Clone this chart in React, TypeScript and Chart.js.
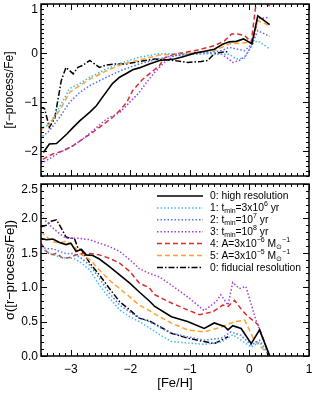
import { useEffect, useRef } from "react";
import { Chart, registerables } from "chart.js";

Chart.register(...registerables);

// ---------- axis ranges / ticks ----------
const FE_MIN = -3.5;
const FE_MAX = 1;
const TOP_MIN = -2.5;
const TOP_MAX = 1;
const BOT_MIN = 0;
const BOT_MAX = 2.5;
const X_TICKS = [-3, -2, -1, 0, 1];
const X_TICK_LABELS = ["−3", "−2", "−1", "0", "1"];
const TOP_TICKS = [-2, -1, 0, 1];
const TOP_TICK_LABELS = ["−2", "−1", "0", "1"];
const BOT_TICKS = [0, 0.5, 1, 1.5, 2, 2.5];
const BOT_TICK_LABELS = ["0.0", "0.5", "1.0", "1.5", "2.0", "2.5"];

// ---------- top panel: [r-process/Fe] ----------
const topHiX = [-3.46, -3.36, -3.24, -3.07, -2.96, -2.85, -2.68, -2.57, -2.47, -2.3, -2.18, -2.06, -1.96, -1.85, -1.68, -1.51, -1.26, -1.1, -0.92, -0.75, -0.59, -0.45, -0.34, -0.22, -0.1, 0.04, 0.14, 0.34];
const topHiY = [-2.02, -1.85, -1.84, -1.65, -1.51, -1.38, -1.2, -1.07, -0.9, -0.62, -0.49, -0.41, -0.34, -0.3, -0.22, -0.15, -0.12, -0.07, 0.0, 0.04, 0.08, 0.18, 0.23, 0.24, 0.29, 0.19, 0.76, 0.58];

const topT3X = [-3.52, -3.36, -3.19, -3.02, -2.85, -2.68, -2.4, -2.13, -1.85, -1.51, -1.26, -0.81, -0.42, -0.34, -0.22, -0.08, 0.05, 0.14, 0.34];
const topT3Y = [-1.54, -1.45, -1.1, -0.72, -0.62, -0.49, -0.32, -0.19, -0.085, -0.01, -0.01, -0.01, -0.02, -0.02, -0.12, -0.1, 0.19, 0.25, 0.085];

const topT7X = [-3.52, -3.36, -3.19, -3.02, -2.85, -2.68, -2.4, -2.13, -1.85, -1.51, -1.26, -0.81, -0.47, -0.34, -0.22, -0.08, 0.05, 0.14, 0.34];
const topT7Y = [-1.74, -1.58, -1.31, -1.0, -0.8, -0.66, -0.49, -0.34, -0.22, -0.11, -0.05, -0.01, 0.05, 0.12, 0.085, 0.05, 0.19, 0.46, 0.34];

const topT8X = [-3.5, -3.36, -3.2, -2.97, -2.8, -2.63, -2.4, -2.18, -2.01, -1.85, -1.73, -1.59, -1.43, -1.26, -0.81, -0.47, -0.37, -0.28, -0.17, -0.06, 0.05, 0.14, 0.34];
const topT8Y = [-2.25, -2.15, -2.03, -1.89, -1.75, -1.58, -1.34, -1.21, -1.0, -0.8, -0.6, -0.39, -0.19, -0.05, 0.01, -0.02, -0.1, -0.19, -0.15, -0.05, 0.19, 0.7, 0.73];

const topA6X = [-3.47, -3.3, -3.13, -2.97, -2.8, -2.63, -2.52, -2.3, -2.18, -2.06, -1.96, -1.8, -1.66, -1.51, -1.43, -1.26, -0.92, -0.59, -0.42, -0.3, -0.2, -0.08, 0.03, 0.12, 0.34];
const topA6Y = [-2.16, -2.05, -1.99, -1.89, -1.75, -1.61, -1.51, -1.31, -1.17, -1.0, -0.76, -0.54, -0.4, -0.25, -0.1, -0.02, 0.05, 0.15, 0.25, 0.39, 0.39, 0.36, 0.22, 1.1, 0.96];

const topA5X = [-3.52, -3.36, -3.19, -3.02, -2.85, -2.68, -2.4, -2.13, -1.85, -1.51, -1.04, -0.59, -0.34, -0.17, 0.0, 0.05, 0.14, 0.34];
const topA5Y = [-1.58, -1.44, -1.17, -0.8, -0.66, -0.53, -0.36, -0.22, -0.14, -0.04, -0.01, 0.05, 0.19, 0.2, 0.22, 0.2, 0.66, 0.56];

const topFidX = [-3.52, -3.44, -3.36, -3.27, -3.16, -3.08, -2.96, -2.88, -2.8, -2.68, -2.6, -2.52, -2.4, -2.24, -2.07, -1.85, -1.59, -1.26, -1.04, -0.81, -0.7, -0.59, -0.47, -0.37];
const topFidY = [-1.1, -1.13, -1.51, -1.33, -0.56, -0.29, -0.42, -0.29, -0.25, -0.15, -0.22, -0.29, -0.24, -0.22, -0.22, -0.17, -0.12, -0.15, -0.19, -0.17, -0.15, -0.01, 0.02, 0.03];

// ---------- bottom panel: sigma([r-process/Fe]) ----------
const botHiX = [-3.5, -3.41, -3.3, -3.19, -3.08, -3.0, -2.91, -2.82, -2.74, -2.63, -2.52, -2.35, -2.18, -2.01, -1.85, -1.68, -1.59, -1.31, -1.04, -0.76, -0.59, -0.42, -0.36, -0.28, -0.14, 0.03, 0.17, 0.34];
const botHiY = [1.71, 1.69, 1.7, 1.65, 1.62, 1.64, 1.52, 1.55, 1.47, 1.46, 1.41, 1.3, 1.18, 1.06, 0.93, 0.8, 0.72, 0.57, 0.5, 0.4, 0.48, 0.43, 0.38, 0.44, 0.4, 0.18, 0.38, 0.0];

const botT3X = [-3.5, -3.41, -3.3, -3.19, -3.08, -2.96, -2.85, -2.68, -2.52, -2.35, -2.18, -2.01, -1.85, -1.68, -1.51, -1.31, -1.04, -0.76, -0.47, -0.28, -0.14, 0.03, 0.17, 0.34];
const botT3Y = [1.56, 1.52, 1.47, 1.44, 1.42, 1.42, 1.37, 1.25, 1.03, 0.84, 0.67, 0.57, 0.5, 0.41, 0.31, 0.21, 0.19, 0.17, 0.2, 0.31, 0.23, 0.13, 0.2, 0.0];

const botT7X = [-3.5, -3.41, -3.3, -3.19, -3.08, -2.96, -2.85, -2.68, -2.52, -2.35, -2.18, -2.01, -1.85, -1.68, -1.51, -1.31, -1.04, -0.76, -0.47, -0.31, -0.14, 0.03, 0.17, 0.34];
const botT7Y = [1.59, 1.56, 1.56, 1.52, 1.49, 1.49, 1.44, 1.32, 1.13, 0.91, 0.74, 0.64, 0.55, 0.5, 0.42, 0.33, 0.28, 0.23, 0.26, 0.35, 0.3, 0.16, 0.23, 0.0];

const botT8X = [-3.5, -3.41, -3.3, -3.19, -3.08, -2.96, -2.85, -2.68, -2.52, -2.35, -2.18, -2.01, -1.85, -1.68, -1.51, -1.31, -1.04, -0.76, -0.56, -0.48, -0.36, -0.28, -0.17, -0.06, 0.11, 0.34];
const botT8Y = [2.05, 1.95, 1.86, 1.78, 1.71, 1.71, 1.71, 1.69, 1.64, 1.59, 1.52, 1.4, 1.27, 1.2, 1.15, 1.03, 0.86, 0.66, 0.79, 0.89, 0.74, 1.07, 0.98, 1.01, 0.52, 0.0];

const botA6X = [-3.5, -3.41, -3.33, -3.24, -3.13, -3.02, -2.91, -2.8, -2.68, -2.52, -2.35, -2.18, -2.01, -1.85, -1.68, -1.59, -1.31, -1.04, -0.84, -0.62, -0.45, -0.36, -0.25, -0.12, -0.03, 0.14, 0.34];
const botA6Y = [1.64, 1.52, 1.47, 1.49, 1.42, 1.43, 1.47, 1.49, 1.49, 1.47, 1.42, 1.35, 1.23, 1.06, 0.99, 0.89, 0.77, 0.67, 0.6, 0.64, 0.74, 0.72, 0.81, 0.66, 0.58, 0.46, 0.0];

const botA5X = [-3.5, -3.41, -3.3, -3.19, -3.08, -2.96, -2.85, -2.68, -2.52, -2.35, -2.18, -2.01, -1.85, -1.68, -1.51, -1.31, -1.04, -0.76, -0.47, -0.25, -0.08, 0.08, 0.34];
const botA5Y = [1.81, 1.73, 1.66, 1.64, 1.67, 1.61, 1.49, 1.4, 1.25, 1.1, 0.98, 0.86, 0.74, 0.66, 0.57, 0.48, 0.38, 0.35, 0.42, 0.5, 0.52, 0.23, 0.0];

const botFidX = [-3.5, -3.41, -3.33, -3.24, -3.16, -3.08, -3.0, -2.94, -2.88, -2.82, -2.68, -2.52, -2.35, -2.18, -2.01, -1.85, -1.68, -1.51, -1.31, -1.04, -0.76, -0.59, -0.47, -0.36];
const botFidY = [1.88, 1.9, 1.96, 1.98, 1.86, 1.73, 1.71, 1.71, 1.57, 1.54, 1.35, 1.18, 0.98, 0.79, 0.67, 0.55, 0.51, 0.43, 0.33, 0.26, 0.21, 0.18, 0.23, 0.28];

// ---------- series styles & legend ----------
type Seg = { t: string; k?: "sub" | "sup" };
const SERIES_COLORS = ["#000000", "#3cbcf4", "#5670f2", "#a040e0", "#d82c2c", "#ffa030", "#000000"];
const SERIES_DASH = [[], [1.5, 2], [1.5, 2], [1.5, 2], [5, 3], [5, 3], [6, 2, 1.5, 2]];
const LEGEND: Seg[][] = [
  [{ t: "0: high resolution" }],
  [{ t: "1: t" }, { t: "min", k: "sub" }, { t: "=3x10" }, { t: "6", k: "sup" }, { t: " yr" }],
  [{ t: "2: t" }, { t: "min", k: "sub" }, { t: "=10" }, { t: "7", k: "sup" }, { t: " yr" }],
  [{ t: "3: t" }, { t: "min", k: "sub" }, { t: "=10" }, { t: "8", k: "sup" }, { t: " yr" }],
  [{ t: "4: A=3x10" }, { t: "−6", k: "sup" }, { t: " M" }, { t: "⊙", k: "sub" }, { t: "−1", k: "sup" }],
  [{ t: "5: A=3x10" }, { t: "−5", k: "sup" }, { t: " M" }, { t: "⊙", k: "sub" }, { t: "−1", k: "sup" }],
  [{ t: "0: fiducial resolution" }],
];

const FONT = "'Liberation Sans', Arial, Helvetica, sans-serif";

const pts = (xs: number[], ys: number[]) => xs.map((x, i) => ({ x, y: ys[i] }));

function makeDatasets(series: [number[], number[]][]) {
  return series.map(([xs, ys], i) => ({
    label: "s" + i,
    data: pts(xs, ys),
    borderColor: SERIES_COLORS[i],
    borderDash: SERIES_DASH[i],
    borderWidth: i === 0 ? 1.6 : 1.5,
    pointRadius: 0,
    fill: false,
    tension: 0,
  }));
}

function frameTicks(
  ctx: CanvasRenderingContext2D,
  chart: any,
  yMajor: number[],
  yMinorStep: number,
  yMin: number,
  yMax: number
) {
  const a = chart.chartArea;
  const xs = chart.scales.x;
  const ys = chart.scales.y;
  ctx.save();
  ctx.strokeStyle = "#000";
  ctx.lineWidth = 1;
  ctx.beginPath();
  for (let k = Math.round(FE_MIN * 10); k <= Math.round(FE_MAX * 10); k++) {
    const v = k / 10;
    const major = k % 10 === 0;
    const len = major ? 6 : 3;
    const px = Math.round(xs.getPixelForValue(v)) + 0.5;
    ctx.moveTo(px, a.bottom);
    ctx.lineTo(px, a.bottom - len);
    ctx.moveTo(px, a.top);
    ctx.lineTo(px, a.top + len);
  }
  const n = Math.round((yMax - yMin) / yMinorStep);
  for (let k = 0; k <= n; k++) {
    const v = yMin + k * yMinorStep;
    const major = yMajor.some((m) => Math.abs(m - v) < 1e-6);
    const len = major ? 6 : 3;
    const py = Math.round(ys.getPixelForValue(v)) + 0.5;
    ctx.moveTo(a.left, py);
    ctx.lineTo(a.left + len, py);
    ctx.moveTo(a.right, py);
    ctx.lineTo(a.right - len, py);
  }
  ctx.stroke();
  ctx.lineWidth = 1.5;
  ctx.strokeRect(a.left, a.top, a.right - a.left, a.bottom - a.top);
  ctx.restore();
}

function yLabels(
  ctx: CanvasRenderingContext2D,
  chart: any,
  ticks: number[],
  labels: string[],
  title: string,
  titleSize: number
) {
  const a = chart.chartArea;
  const ys = chart.scales.y;
  ctx.save();
  ctx.fillStyle = "#000";
  ctx.font = "12px " + FONT;
  ctx.textAlign = "right";
  ctx.textBaseline = "middle";
  ticks.forEach((v, i) => {
    let py = ys.getPixelForValue(v);
    py = Math.max(py, a.top + 5);
    ctx.fillText(labels[i], a.left - 3, py + 0.5);
  });
  ctx.translate(10, (a.top + a.bottom) / 2);
  ctx.rotate(-Math.PI / 2);
  ctx.textAlign = "center";
  ctx.font = titleSize + "px " + FONT;
  ctx.fillText(title, 0, 0);
  ctx.restore();
}

function drawRich(ctx: CanvasRenderingContext2D, segs: Seg[], x: number, y: number) {
  let cx = x;
  for (const s of segs) {
    if (s.k === "sub") {
      ctx.font = "7px " + FONT;
      ctx.fillText(s.t, cx, y + 3);
    } else if (s.k === "sup") {
      ctx.font = "7px " + FONT;
      ctx.fillText(s.t, cx, y - 4);
    } else {
      ctx.font = "10.3px " + FONT;
      ctx.fillText(s.t, cx, y);
    }
    cx += ctx.measureText(s.t).width;
  }
}

function TopPanel() {
  const ref = useRef<HTMLCanvasElement | null>(null);
  useEffect(() => {
    if (!ref.current) return;
    const chart = new Chart(ref.current, {
      type: "line",
      data: {
        datasets: makeDatasets([
          [topHiX, topHiY],
          [topT3X, topT3Y],
          [topT7X, topT7Y],
          [topT8X, topT8Y],
          [topA6X, topA6Y],
          [topA5X, topA5Y],
          [topFidX, topFidY],
        ]) as any,
      },
      options: {
        animation: false,
        responsive: false,
        events: [],
        layout: { padding: { left: 41, right: 6, top: 4, bottom: 4 } },
        scales: {
          x: { type: "linear", min: FE_MIN, max: FE_MAX, display: false },
          y: { type: "linear", min: TOP_MIN, max: TOP_MAX, display: false },
        },
        plugins: { legend: { display: false }, tooltip: { enabled: false } },
      },
      plugins: [
        {
          id: "frameTop",
          afterDraw(c: any) {
            const ctx = c.ctx;
            frameTicks(ctx, c, TOP_TICKS, 0.1, TOP_MIN, TOP_MAX);
            yLabels(ctx, c, TOP_TICKS, TOP_TICK_LABELS, "[r−process/Fe]", 12);
          },
        },
      ],
    });
    return () => chart.destroy();
  }, []);
  return <canvas ref={ref} width={315} height={180} style={{ position: "absolute", left: 0, top: 0 }} />;
}

function BottomPanel() {
  const ref = useRef<HTMLCanvasElement | null>(null);
  useEffect(() => {
    if (!ref.current) return;
    const chart = new Chart(ref.current, {
      type: "line",
      data: {
        datasets: makeDatasets([
          [botHiX, botHiY],
          [botT3X, botT3Y],
          [botT7X, botT7Y],
          [botT8X, botT8Y],
          [botA6X, botA6Y],
          [botA5X, botA5Y],
          [botFidX, botFidY],
        ]) as any,
      },
      options: {
        animation: false,
        responsive: false,
        events: [],
        layout: { padding: { left: 41, right: 6, top: 4, bottom: 37 } },
        scales: {
          x: { type: "linear", min: FE_MIN, max: FE_MAX, display: false },
          y: { type: "linear", min: BOT_MIN, max: BOT_MAX, display: false },
        },
        plugins: { legend: { display: false }, tooltip: { enabled: false } },
      },
      plugins: [
        {
          id: "frameBot",
          afterDraw(c: any) {
            const ctx = c.ctx;
            const a = c.chartArea;
            frameTicks(ctx, c, BOT_TICKS, 0.1, BOT_MIN, BOT_MAX);
            yLabels(ctx, c, BOT_TICKS, BOT_TICK_LABELS, "σ([r−process/Fe])", 13);
            ctx.save();
            ctx.fillStyle = "#000";
            ctx.font = "12px " + FONT;
            ctx.textAlign = "center";
            ctx.textBaseline = "middle";
            X_TICKS.forEach((v, i) => {
              ctx.fillText(X_TICK_LABELS[i], c.scales.x.getPixelForValue(v), a.bottom + 14);
            });
            ctx.font = "13px " + FONT;
            ctx.fillText("[Fe/H]", (a.left + a.right) / 2, a.bottom + 27);
            const ds = c.data.datasets;
            ctx.textAlign = "left";
            LEGEND.forEach((segs, i) => {
              const y = a.top + 12 + i * 11.9;
              ctx.save();
              ctx.strokeStyle = ds[i].borderColor;
              ctx.lineWidth = ds[i].borderWidth;
              ctx.setLineDash(ds[i].borderDash);
              ctx.beginPath();
              ctx.moveTo(157, y);
              ctx.lineTo(203, y);
              ctx.stroke();
              ctx.restore();
              drawRich(ctx, segs, 210, y + 0.5);
            });
            ctx.restore();
          },
        },
      ],
    });
    return () => chart.destroy();
  }, []);
  return <canvas ref={ref} width={315} height={213} style={{ position: "absolute", left: 0, top: 180 }} />;
}

export default function App() {
  return (
    <div style={{ position: "fixed", left: 0, top: 0, width: 315, height: 393, background: "#fff" }}>
      <TopPanel />
      <BottomPanel />
    </div>
  );
}
